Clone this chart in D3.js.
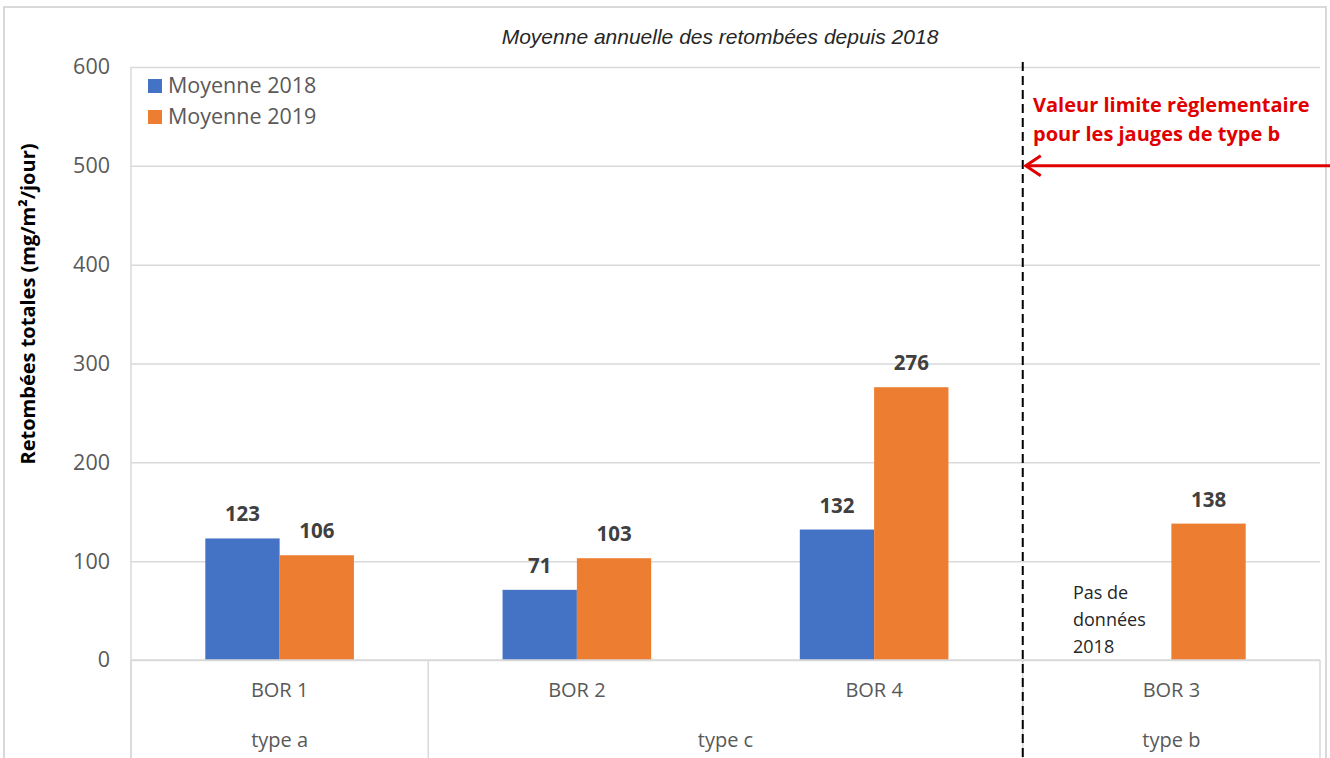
<!DOCTYPE html>
<html>
<head>
<meta charset="utf-8">
<script src="https://cdn.jsdelivr.net/npm/d3@7"></script>
<style>
  html, body { margin: 0; padding: 0; background: #fff; }
  svg { display: block; }
  text { font-family: "Open Sans", "Noto Sans", sans-serif; }
</style>
</head>
<body>
<svg id="chart" width="1330" height="758"></svg>
<script>
// ---- data ----
const categories = ["BOR 1", "BOR 2", "BOR 4", "BOR 3"];
const groupNames = ["type a", "type c", "type b"];
const groupMembers = [["BOR 1"], ["BOR 2", "BOR 4"], ["BOR 3"]];
const seriesNames = ["Moyenne 2018", "Moyenne 2019"];
const values2018 = [123, 71, 132, null];
const values2019 = [106, 103, 276, 138];
const yTicks = [0, 100, 200, 300, 400, 500, 600];
const title = "Moyenne annuelle des retombées depuis 2018";
const yTitle = "Retombées totales (mg/m²/jour)";
const limitValue = 500;
const limitText = ["Valeur limite règlementaire", "pour les jauges de type b"];
const noDataText = ["Pas de", "données", "2018"];

// ---- layout ----
const W = 1330, H = 758;
const plot = { left: 131, right: 1320, top: 67, bottom: 660 };
const colors = ["#4472C4", "#ED7D31"];
const grid = "#d9d9d9";

const svg = d3.select("#chart");

// outer chart border
svg.append("rect").attr("x", 4).attr("y", 7).attr("width", 1322).attr("height", 780)
  .attr("fill", "none").attr("stroke", grid).attr("stroke-width", 2);

const y = d3.scaleLinear().domain([0, 600]).range([plot.bottom, plot.top]);
const x0 = d3.scaleBand().domain(categories).range([plot.left, plot.right])
  .paddingInner(0.5).paddingOuter(0.25);
const x1 = d3.scaleBand().domain(seriesNames).range([0, x0.bandwidth()]);
const step = x0.step();
const gap = step - x0.bandwidth();
const catLeft = c => x0(c) - gap / 2;

// gridlines
const yAxis = d3.axisLeft(y).tickValues(yTicks).tickSize(-(plot.right - plot.left)).tickPadding(21);
const gy = svg.append("g").attr("transform", `translate(${plot.left},0)`).call(yAxis);
gy.select(".domain").remove();
gy.selectAll(".tick line").attr("stroke", grid).attr("stroke-width", 1.5);
gy.selectAll(".tick text").attr("fill", "#595959").style("font-size", "21.5px")
  .style("font-family", "'Open Sans', sans-serif");

// left axis line
svg.append("line").attr("x1", plot.left).attr("x2", plot.left)
  .attr("y1", plot.top).attr("y2", H).attr("stroke", grid).attr("stroke-width", 1.5);

// category axis box: separators at group boundaries
const boundaries = [];
groupMembers.forEach(m => boundaries.push(catLeft(m[0])));
boundaries.push(plot.right);
svg.selectAll("line.sep").data(boundaries).enter().append("line").attr("class", "sep")
  .attr("x1", d => d).attr("x2", d => d).attr("y1", plot.bottom).attr("y2", H)
  .attr("stroke", grid).attr("stroke-width", 1.5);

// category labels
svg.selectAll("text.cat").data(categories).enter().append("text").attr("class", "cat")
  .attr("x", d => x0(d) + x0.bandwidth() / 2).attr("y", 697)
  .attr("text-anchor", "middle").attr("fill", "#595959").style("font-size", "20px")
  .text(d => d);

// group labels
svg.selectAll("text.grp").data(groupNames).enter().append("text").attr("class", "grp")
  .attr("x", (d, i) => {
    const m = groupMembers[i];
    return (catLeft(m[0]) + catLeft(m[m.length - 1]) + step) / 2;
  })
  .attr("y", 747).attr("text-anchor", "middle").attr("fill", "#595959").style("font-size", "20px")
  .text(d => d);

// bars
const seriesValues = [values2018, values2019];
seriesNames.forEach((s, si) => {
  const data = categories.map((c, i) => ({ c, v: seriesValues[si][i] })).filter(d => d.v != null);
  svg.selectAll(null).data(data).enter().append("rect")
    .attr("x", d => x0(d.c) + x1(s)).attr("width", x1.bandwidth())
    .attr("y", d => y(d.v)).attr("height", d => y(0) - y(d.v)).attr("fill", colors[si]);
  svg.selectAll(null).data(data).enter().append("text")
    .attr("x", d => x0(d.c) + x1(s) + x1.bandwidth() / 2).attr("y", d => y(d.v) - 17)
    .attr("text-anchor", "middle").attr("fill", "#404040").style("font-size", "20.5px")
    .style("font-weight", "bold").text(d => d.v);
});

// zero axis line
svg.append("line").attr("x1", plot.left).attr("x2", plot.right)
  .attr("y1", plot.bottom).attr("y2", plot.bottom).attr("stroke", grid).attr("stroke-width", 1.5);

// "Pas de données 2018"
const nd = svg.append("text").attr("fill", "#262626").style("font-size", "18px");
noDataText.forEach((t, i) => {
  nd.append("tspan").attr("x", 1073).attr("y", 599 + i * 27).text(t);
});

// dashed separator
const dashX = catLeft("BOR 3");
svg.append("line").attr("x1", dashX).attr("x2", dashX).attr("y1", 62).attr("y2", H)
  .attr("stroke", "#000").attr("stroke-width", 2).attr("stroke-dasharray", "9,5");

// limit arrow
const ly = y(limitValue);
const red = "#e00000";
svg.append("line").attr("x1", dashX + 3).attr("x2", W).attr("y1", ly).attr("y2", ly)
  .attr("stroke", red).attr("stroke-width", 3);
svg.append("path").attr("d", `M${dashX + 18},${ly - 10} L${dashX + 3},${ly} L${dashX + 18},${ly + 10}`)
  .attr("fill", "none").attr("stroke", red).attr("stroke-width", 3);
limitText.forEach((t, i) => {
  svg.append("text").attr("x", 1033).attr("y", 112 + i * 29).attr("fill", red)
    .style("font-size", "20px").style("font-weight", "bold").text(t);
});

// title
svg.append("text").attr("x", 720).attr("y", 44).attr("text-anchor", "middle")
  .attr("fill", "#262626").style("font-family", "'Liberation Sans', Arial, sans-serif")
  .style("font-size", "21px").style("font-style", "italic").text(title);

// y-axis title
svg.append("text").attr("transform", `translate(35,304) rotate(-90)`).attr("text-anchor", "middle")
  .attr("fill", "#000").style("font-size", "20px").style("font-weight", "bold").text(yTitle);

// legend
seriesNames.forEach((s, i) => {
  const ly2 = 86 + i * 31;
  svg.append("rect").attr("x", 148).attr("y", ly2 - 7).attr("width", 14).attr("height", 14).attr("fill", colors[i]);
  svg.append("text").attr("x", 168).attr("y", ly2 + 7).attr("fill", "#595959")
    .style("font-size", "21.5px").text(s);
});
</script>
</body>
</html>
